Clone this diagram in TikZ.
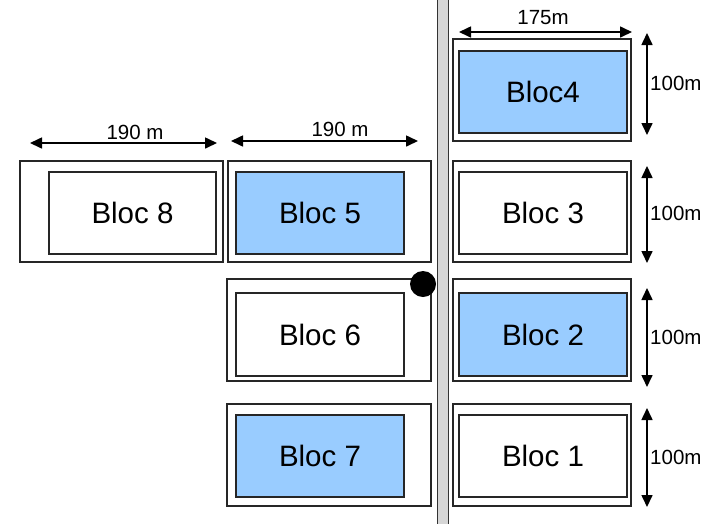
\documentclass[tikz,border=0pt]{standalone}
\usepackage{fontspec}
\setmainfont{Liberation Sans}
\usetikzlibrary{arrows.meta}
\definecolor{blocblue}{RGB}{153,204,255}
\definecolor{roadgray}{RGB}{214,214,214}
\begin{document}
\begin{tikzpicture}[x=1pt,y=-1pt,
  outerbox/.style={draw=black!85,line width=1.1pt,fill=white,inner sep=0pt,outer sep=0pt,anchor=north west},
  innerbox/.style={draw=black!85,line width=1.3pt,inner sep=0pt,outer sep=0pt,anchor=north west,
                   text height=21pt,text depth=0pt,align=center,font=\fontsize{29.5}{31}\selectfont},
  bluebox/.style={innerbox,fill=blocblue},
  dimline/.style={line width=1.6pt,{Triangle[length=12pt,width=11pt]}-{Triangle[length=12pt,width=11pt]}},
  dimlabel/.style={font=\fontsize{20.5}{22}\selectfont,inner sep=0pt}]
\useasboundingbox (0,0) rectangle (714,523);

% road
\node[fill=roadgray,draw=black!80,line width=1pt,minimum width=11pt,minimum height=530pt,inner sep=0pt,anchor=north west] (road) at (436.5,-3) {};

% left column
\node[outerbox,minimum width=203pt,minimum height=101pt] (o8) at (20,161) {};
\node[innerbox,minimum width=167pt,minimum height=82pt] (b8) at (49,172) {Bloc 8};
\node[outerbox,minimum width=203pt,minimum height=101pt] (o5) at (228,161) {};
\node[bluebox,minimum width=168pt,minimum height=82pt] (b5) at (236,172) {Bloc 5};
\node[outerbox,minimum width=204pt,minimum height=102pt] (o6) at (227,279) {};
\node[innerbox,minimum width=168pt,minimum height=83pt] (b6) at (236,293) {Bloc 6};
\node[outerbox,minimum width=204pt,minimum height=102pt] (o7) at (227,404) {};
\node[bluebox,minimum width=168pt,minimum height=82pt] (b7) at (236,415) {Bloc 7};

% right column
\node[outerbox,minimum width=178pt,minimum height=102pt] (o4) at (453,39) {};
\node[bluebox,minimum width=168pt,minimum height=82pt] (b4) at (459,51) {Bloc4};
\node[outerbox,minimum width=178pt,minimum height=101pt] (o3) at (453,161) {};
\node[innerbox,minimum width=168pt,minimum height=82pt] (b3) at (459,172) {Bloc 3};
\node[outerbox,minimum width=178pt,minimum height=102pt] (o2) at (453,279) {};
\node[bluebox,minimum width=168pt,minimum height=83pt] (b2) at (459,293) {Bloc 2};
\node[outerbox,minimum width=178pt,minimum height=102pt] (o1) at (453,404) {};
\node[innerbox,minimum width=168pt,minimum height=82pt] (b1) at (459,415) {Bloc 1};

% dot
\node[circle,fill=black,minimum size=26pt,inner sep=0pt] (dot) at (423,284) {};

% dimension arrows
\coordinate (h1a) at (30,143);  \coordinate (h1b) at (217,143);
\coordinate (h2a) at (231,141); \coordinate (h2b) at (418,141);
\coordinate (h3a) at (459,32);  \coordinate (h3b) at (632,32);
\draw[dimline] (h1a) -- (h1b);
\draw[dimline] (h2a) -- (h2b);
\draw[dimline] (h3a) -- (h3b);
\node[dimlabel] (l1) at (135,132) {190 m};
\node[dimlabel] (l2) at (340,129) {190 m};
\node[dimlabel] (l3) at (543,18) {175m};

\coordinate (v1a) at (647,33);  \coordinate (v1b) at (647,135);
\coordinate (v2a) at (647,166); \coordinate (v2b) at (647,263);
\coordinate (v3a) at (647,288); \coordinate (v3b) at (647,387);
\coordinate (v4a) at (647,408); \coordinate (v4b) at (647,507);
\draw[dimline] (v1a) -- (v1b);
\draw[dimline] (v2a) -- (v2b);
\draw[dimline] (v3a) -- (v3b);
\draw[dimline] (v4a) -- (v4b);
\node[dimlabel,anchor=west] (m1) at (650,83) {100m};
\node[dimlabel,anchor=west] (m2) at (650,213) {100m};
\node[dimlabel,anchor=west] (m3) at (650,337) {100m};
\node[dimlabel,anchor=west] (m4) at (650,457) {100m};
\end{tikzpicture}
\end{document}
